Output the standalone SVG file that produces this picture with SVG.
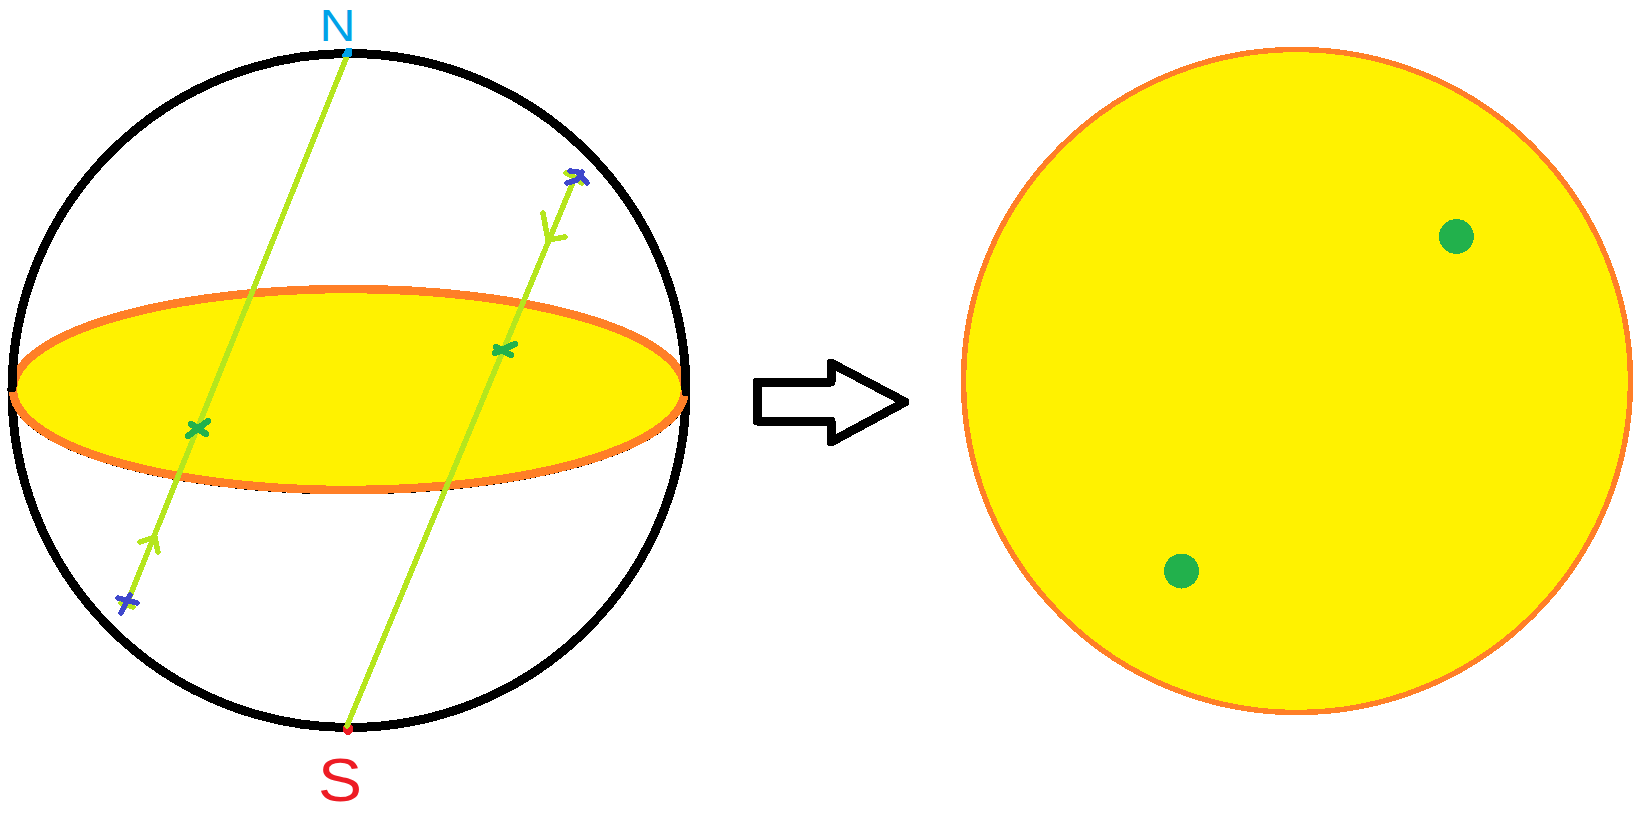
<svg xmlns="http://www.w3.org/2000/svg" width="1646" height="814" viewBox="0 0 1646 814">
<style>
.a{shape-rendering:crispEdges;fill:none;stroke-linecap:round;stroke-linejoin:round}
.k{stroke:#000;stroke-width:9}
.l{stroke:#B5E61D;stroke-width:5.500}
.g{stroke:#22B14C;stroke-width:6.500}
.b{stroke:#3F48CC;stroke-width:5.500}
.t{font-family:"Liberation Sans",Arial,sans-serif;text-anchor:middle}
</style>
<rect width="1646" height="814" fill="#fff"/>
<g id="sphere">
<path class="a k" d="M12 388A337 337 0 0 0 349 727.500A337 337 0 0 0 686 392"/>
<ellipse class="a" cx="349" cy="390" rx="336" ry="100.500" stroke="#000" stroke-width="8" stroke-dasharray="7 5"/>
<ellipse class="a" cx="349" cy="389.500" rx="336" ry="100.500" stroke="#FF7F27" stroke-width="8.500" style="fill:#FFF200"/>
<path class="a k" d="M12 388A337 337 0 0 1 349 53.500A337 337 0 0 1 686 392"/>
</g>
<g id="pole-s"><ellipse class="a" cx="348" cy="729" rx="5" ry="6" style="fill:#ED1C24"/><text class="t" x="340" y="801" font-size="62" textLength="44" lengthAdjust="spacingAndGlyphs" fill="#ED1C24">S</text></g>
<g id="connectors">
<path class="a l" d="M347 56L126 606"/>
<path class="a l" d="M347 726L574 180"/>
<path class="a l" d="M155 537L140 542M155 537L158 552"/>
<path class="a l" d="M548 240L543 213M548 240L565 237"/>
<path class="a l" d="M566 173L576 178M582 183L576 178"/>
<path class="a l" d="M121 603L133 607"/>
</g>
<g id="pole-n"><path class="a" style="fill:#00A2E8" stroke="#00A2E8" stroke-width="1" d="M342 56L347 48L351 48L351 56Z"/><text class="t" x="337.500" y="40.500" font-size="45" textLength="36" lengthAdjust="spacingAndGlyphs" fill="#00A2E8">N</text></g>
<g id="marks">
<path class="a b" d="M570 171L578 172L587 183M582 172L577 180L567 183"/>
<path class="a b" d="M118 598L137 603M130 595L121 613"/>
<path class="a g" d="M191 424L206 434M208 421L188 436"/>
<path class="a g" d="M496 347L511 355M515 344L495 353"/>
</g>
<g id="arrow"><path class="a" stroke="#000" stroke-width="9" d="M757 382H831V363L905 402L831 442V421H757Z"/></g>
<g id="disc">
<ellipse class="a" cx="1297" cy="381" rx="333.500" ry="331.500" style="fill:#FFF200" stroke="#FF7F27" stroke-width="5.500"/>
<circle class="a" cx="1456.500" cy="236.500" r="17.500" style="fill:#22B14C"/>
<circle class="a" cx="1181.500" cy="571" r="17.500" style="fill:#22B14C"/>
</g>
</svg>
